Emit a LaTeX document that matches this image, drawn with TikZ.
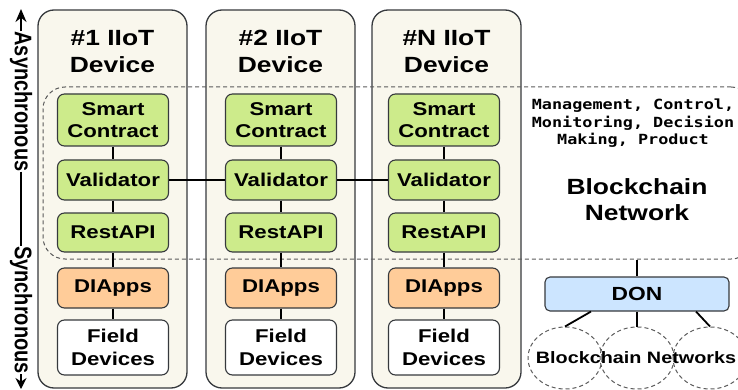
\documentclass[tikz,border=0pt]{standalone}
\usepackage{fontspec}
\usepackage{graphicx}
\usetikzlibrary{arrows.meta,shapes.geometric}
\newfontfamily\labf[FakeStretch=1.2]{Liberation Sans}
\newfontfamily\rotf{Liberation Sans}
\newfontfamily\monf[FakeStretch=1.2]{DejaVu Sans Mono}
\definecolor{strk}{HTML}{36393D}
\definecolor{devfill}{HTML}{F9F7ED}
\definecolor{gfill}{HTML}{CDEB8B}
\definecolor{ofill}{HTML}{FFCC99}
\definecolor{bfill}{HTML}{CCE5FF}
\definecolor{dashc}{HTML}{5A5A5A}
\tikzset{
  dev/.style={draw=strk, fill=devfill, line width=1.3pt, rounded corners=16pt,
    minimum width=149pt, minimum height=378pt, inner sep=0pt},
  ttl/.style={align=center, inner sep=0pt, font=\labf\bfseries\fontsize{22}{27}\selectfont},
  ibox/.style={draw=strk, line width=1.1pt, rounded corners=7pt, minimum width=111pt,
    inner sep=0pt, align=center, font=\labf\bfseries\fontsize{18.5}{22.5}\selectfont},
  gbx/.style={ibox, fill=gfill},
  obx/.style={ibox, fill=ofill},
  wbx/.style={ibox, fill=white},
  conn/.style={line width=1.8pt, black},
  dreg/.style={draw=dashc, line width=1pt, dash pattern=on 4pt off 3pt, rounded corners=22pt,
    minimum width=710pt, minimum height=172pt, inner sep=0pt},
  bubble/.style={draw=dashc, line width=1pt, dash pattern=on 4pt off 3pt, ellipse,
    minimum width=74pt, minimum height=62pt, inner sep=0pt},
  rtxt/.style={rotate=-90, inner sep=0pt, font=\rotf\bfseries\fontsize{20}{24}\selectfont},
  axis/.style={line width=1.5pt, black}
}
\begin{document}
\begin{tikzpicture}[x=1pt,y=-1pt]
\useasboundingbox (0,0) rectangle (738,390);
\clip (0,0) rectangle (738,390);

% device boxes
\node[dev] (d1) at (112.5,199) {};
\node[dev] (d2) at (280.5,199) {};
\node[dev] (d3) at (446.5,199) {};
\node[ttl] (t1) at (112.5,51.5) {\#1 IIoT\\Device};
\node[ttl] (t2) at (280.5,51.5) {\#2 IIoT\\Device};
\node[ttl] (t3) at (446.5,51.5) {\#N IIoT\\Device};

% blockchain network region
\node[dreg] (bc) at (398,173) {};

% inner boxes
\node[gbx, minimum height=52pt] (sc1) at (113,120) {Smart\\Contract};
\node[gbx, minimum height=40pt] (va1) at (113,180) {Validator};
\node[gbx, minimum height=39pt] (ra1) at (113,232.5) {RestAPI};
\node[obx, minimum height=40pt] (di1) at (113,288) {DIApps};
\node[wbx, minimum height=55pt] (fd1) at (113,347.5) {Field\\Devices};

\node[gbx, minimum height=52pt] (sc2) at (281,120) {Smart\\Contract};
\node[gbx, minimum height=40pt] (va2) at (281,180) {Validator};
\node[gbx, minimum height=39pt] (ra2) at (281,232.5) {RestAPI};
\node[obx, minimum height=40pt] (di2) at (281,288) {DIApps};
\node[wbx, minimum height=55pt] (fd2) at (281,347.5) {Field\\Devices};

\node[gbx, minimum height=52pt] (sc3) at (444,120) {Smart\\Contract};
\node[gbx, minimum height=40pt] (va3) at (444,180) {Validator};
\node[gbx, minimum height=39pt] (ra3) at (444,232.5) {RestAPI};
\node[obx, minimum height=40pt] (di3) at (444,288) {DIApps};
\node[wbx, minimum height=55pt] (fd3) at (444,347.5) {Field\\Devices};

\draw[conn] (sc1) -- (va1) (va1) -- (ra1) (ra1) -- (di1) (di1) -- (fd1);
\draw[conn] (sc2) -- (va2) (va2) -- (ra2) (ra2) -- (di2) (di2) -- (fd2);
\draw[conn] (sc3) -- (va3) (va3) -- (ra3) (ra3) -- (di3) (di3) -- (fd3);
\draw[conn] (va1) -- (va2) (va2) -- (va3);

% blockchain texts
\node[align=center, inner sep=0pt, font=\monf\bfseries\fontsize{14}{17.5}\selectfont] (mt) at (633,123.5)
  {Management, Control,\\Monitoring, Decision\\Making, Product};
\node[ttl, font=\labf\bfseries\fontsize{22}{26}\selectfont] (bn) at (637,200) {Blockchain\\Network};

% DON
\node[draw=strk, fill=bfill, line width=1.1pt, rounded corners=5pt, minimum width=184pt,
  minimum height=34pt, inner sep=0pt, font=\labf\bfseries\fontsize{19}{22}\selectfont] (don) at (637,294) {DON};
\draw[conn] (bc.south -| don.north) -- (don.north);

\node[bubble] (c1) at (565,358) {};
\node[bubble] (c2) at (637,358) {};
\node[bubble] (c3) at (710,358) {};
\draw[conn] ([xshift=-46pt]don.south) -- (c1.north);
\draw[conn] (don.south) -- (c2.north);
\draw[conn] ([xshift=59pt]don.south) -- (c3.north);
\node[inner sep=0pt, font=\labf\bfseries\fontsize{16.5}{20}\selectfont] (bns) at (636,358) {Blockchain Networks};

% left axis
\node[rtxt] (as) at (21,101.5) {\scalebox{1}[1.2]{Asynchronous}};
\node[rtxt] (sy) at (21,310) {\scalebox{1}[1.2]{Synchronous}};
\coordinate (atop) at (21,9);
\coordinate (abot) at (21,389);
\draw[axis, -{Stealth[length=13pt,width=11pt]}] (as.west) -- (atop);
\draw[axis] (as.east) -- (sy.west);
\draw[axis, -{Stealth[length=11pt,width=11pt]}] (sy.east) -- (abot);
\end{tikzpicture}
\end{document}
